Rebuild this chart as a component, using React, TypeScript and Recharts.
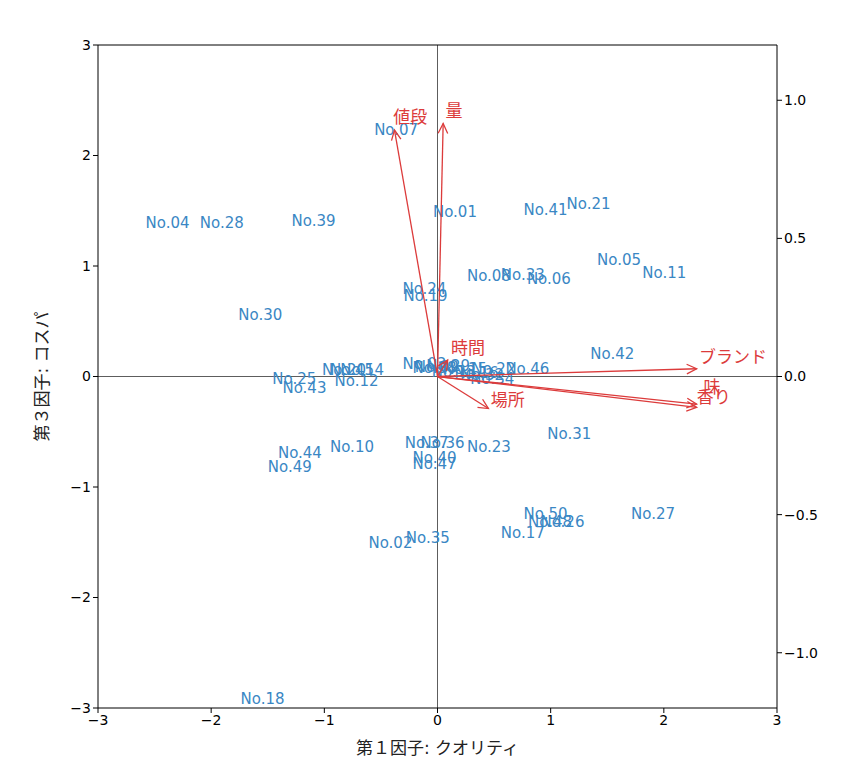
import { ComposedChart, Scatter, XAxis, YAxis, ReferenceLine, Label } from 'recharts'

const names = ['No.07','No.04','No.28','No.39','No.01','No.41','No.21','No.05','No.11','No.08','No.33','No.06','No.24','No.19','No.30','No.42','No.46','No.34','No.12','No.25','No.43','No.20','No.14','No.45','No.03','No.09','No.13','No.15','No.16','No.22','No.29','No.32','No.38','No.10','No.44','No.49','No.37','No.36','No.23','No.40','No.47','No.31','No.50','No.48','No.26','No.27','No.17','No.35','No.02','No.18']
const score1 = [-0.56,-2.58,-2.1,-1.29,-0.04,0.76,1.14,1.41,1.81,0.26,0.56,0.79,-0.31,-0.3,-1.76,1.35,0.6,0.29,-0.91,-1.46,-1.37,-1.02,-0.86,-0.95,-0.31,-0.2,-0.05,0.05,0.15,0.3,-0.1,0.2,-0.22,-0.95,-1.41,-1.5,-0.29,-0.15,0.26,-0.22,-0.22,0.97,0.76,0.8,0.91,1.71,0.56,-0.28,-0.61,-1.74]
const score3 = [2.19,1.34,1.34,1.36,1.44,1.46,1.52,1.01,0.89,0.86,0.87,0.84,0.75,0.68,0.51,0.16,0.02,-0.07,-0.09,-0.07,-0.15,0.01,0.01,0.01,0.07,0.04,0.0,0.02,-0.01,0.02,0.05,-0.03,0.03,-0.68,-0.74,-0.86,-0.65,-0.65,-0.68,-0.78,-0.84,-0.57,-1.29,-1.36,-1.36,-1.29,-1.46,-1.51,-1.55,-2.96]

const varNames = ['値段','量','ブランド','味','香り','時間','場所']
const load1 = [-0.38,0.05,2.29,2.29,2.29,0.09,0.45]
const load3 = [2.23,2.29,0.07,-0.25,-0.28,0.15,-0.29]
const labelX = [-0.39,0.07,2.31,2.35,2.29,0.12,0.47]
const labelY = [2.29,2.35,0.12,-0.15,-0.24,0.2,-0.27]

const mainTicks = [-3,-2,-1,0,1,2,3]
const loadTicks = [-1,-0.5,0,0.5,1]

const points = names.map((n, i) => ({ name: n, x: score1[i], y: score3[i] }))
const labels = varNames.map((n, i) => ({ name: n, x: labelX[i], y: labelY[i] }))

const BLUE = '#3a87c4'
const RED = '#dc3b3b'
const JP = '"DejaVu Sans", "Noto Sans CJK JP", sans-serif'
const PXX = 113.2
const PXY = 110.3

const fmt = (v: number) => (v < 0 ? '\u2212' : '') + Math.abs(v).toFixed(1)
const fmt0 = (v: number) => (v < 0 ? '\u2212' : '') + Math.abs(v)

const tick = { fill: '#000', fontSize: 14, fontFamily: JP }

function Arrow(props: any) {
  const { cx, cy, payload } = props
  if (payload.tip !== true) return <g />
  const dx = payload.x * PXX
  const dy = -payload.y * PXY
  const a = Math.atan2(dy, dx)
  const L = 11
  const w = 0.45
  const p1 = [cx - L * Math.cos(a - w), cy - L * Math.sin(a - w)]
  const p2 = [cx - L * Math.cos(a + w), cy - L * Math.sin(a + w)]
  return (
    <g>
      <line x1={cx - dx} y1={cy - dy} x2={cx} y2={cy} stroke={RED} strokeWidth={1.3} />
      <polyline points={`${p1[0]},${p1[1]} ${cx},${cy} ${p2[0]},${p2[1]}`} fill="none" stroke={RED} strokeWidth={1.3} />
    </g>
  )
}

export default function App() {
  return (
    <ComposedChart width={839} height={750} margin={{ top: 0, right: 20, bottom: 10, left: 40 }}
      style={{ fontFamily: JP }}>
      <XAxis xAxisId="b" type="number" dataKey="x" domain={[-3, 3]} ticks={mainTicks} tickFormatter={fmt0}
        allowDataOverflow stroke="#000" tick={tick} tickSize={5} height={40}>
        <Label value="第１因子: クオリティ" position="bottom" offset={-6} style={{ fontSize: 17, fill: '#222', fontFamily: JP }} />
      </XAxis>
      <XAxis xAxisId="t" orientation="top" type="number" domain={[-1.2, 1.2]} ticks={loadTicks} tickFormatter={fmt}
        allowDataOverflow stroke="#000" tick={tick} tickSize={5} height={37} />
      <YAxis yAxisId="l" type="number" dataKey="y" domain={[-3, 3]} ticks={mainTicks} tickFormatter={fmt0}
        allowDataOverflow stroke="#000" tick={tick} tickSize={5} width={50}>
        <Label value="第３因子: コスパ" angle={-90} position="left" offset={6} style={{ fontSize: 17, fill: '#222', fontFamily: JP, textAnchor: 'middle' }} />
      </YAxis>
      <YAxis yAxisId="r" orientation="right" type="number" domain={[-1.2, 1.2]} ticks={loadTicks} tickFormatter={fmt}
        allowDataOverflow stroke="#000" tick={tick} tickSize={5} width={50} />
      <ReferenceLine xAxisId="b" yAxisId="l" x={0} stroke="#333" strokeWidth={0.8} />
      <ReferenceLine xAxisId="b" yAxisId="l" y={0} stroke="#333" strokeWidth={0.8} />
      <Scatter xAxisId="b" yAxisId="l" data={points} isAnimationActive={false}
        shape={(p: any) => (
          <text x={p.cx} y={p.cy} fill={BLUE} fontSize={15} fontFamily={JP}>{p.payload.name}</text>
        )} />
      {varNames.map((n, i) => (
        <Scatter key={n} xAxisId="b" yAxisId="l" isAnimationActive={false}
          data={[{ x: load1[i], y: load3[i], tip: true }]} shape={Arrow} />
      ))}
      <Scatter xAxisId="b" yAxisId="l" data={labels} isAnimationActive={false}
        shape={(p: any) => (
          <text x={p.cx} y={p.cy} fill={RED} fontSize={17} fontFamily={JP}>{p.payload.name}</text>
        )} />
    </ComposedChart>
  )
}
